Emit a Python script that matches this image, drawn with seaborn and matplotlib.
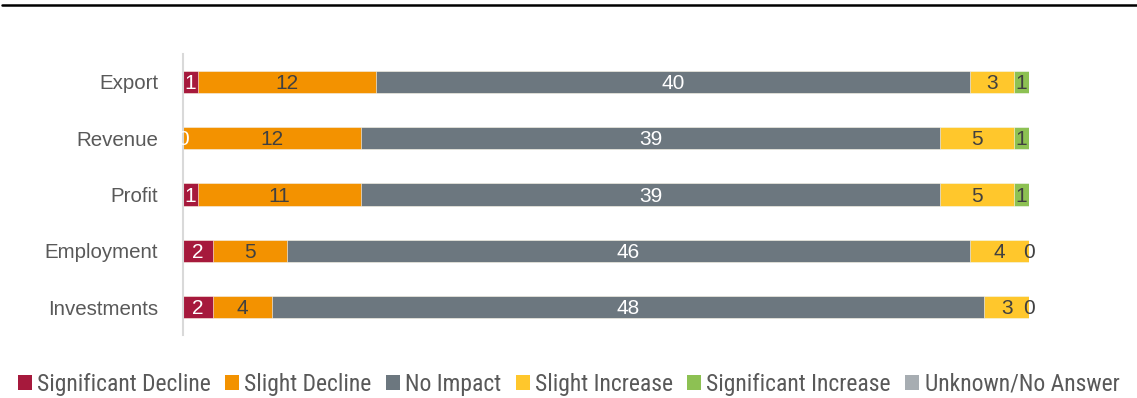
import matplotlib
matplotlib.use("Agg")
import matplotlib.pyplot as plt
from matplotlib.lines import Line2D
from matplotlib.patches import Patch
from matplotlib import font_manager
import numpy as np
import pandas as pd
import seaborn as sns

categories = ["Export", "Revenue", "Profit", "Employment", "Investments"]
series_names = ["Significant Decline", "Slight Decline", "No Impact",
                "Slight Increase", "Significant Increase", "Unknown/No Answer"]
significant_decline = [1, 0, 1, 2, 2]
slight_decline = [12, 12, 11, 5, 4]
no_impact = [40, 39, 39, 46, 48]
slight_increase = [3, 5, 5, 4, 3]
significant_increase = [1, 1, 1, 0, 0]
unknown_no_answer = [0, 0, 0, 0, 0]

colors = ["#A6193C", "#F39200", "#6C777F", "#FFC72C", "#8DC153", "#A7ADB2"]
text_colors = ["white", "#404040", "white", "#404040", "#404040", None]

values = [significant_decline, slight_decline, no_impact,
          slight_increase, significant_increase, unknown_no_answer]
df = pd.DataFrame({name: v for name, v in zip(series_names, values)},
                  index=categories)
cum = df.cumsum(axis=1)

sns.set_theme(style="white")
plt.rcParams["font.family"] = ["Liberation Sans", "DejaVu Sans"]

# pick a narrow face for the legend if one is installed
installed = {f.name for f in font_manager.fontManager.ttflist}
legend_family = "Liberation Sans"
for cand in ["Roboto Condensed", "Liberation Sans Narrow", "Open Sans Condensed"]:
    if cand in installed:
        legend_family = cand
        break

fig = plt.figure(figsize=(11.37, 3.98), dpi=100)
ax = fig.add_axes([0.161, 0.1577, 0.744, 0.7073])

# stacked bars: draw cumulative totals from the last series back to the first
for name, col in reversed(list(zip(series_names, colors))):
    plot_df = pd.DataFrame({"category": categories, "value": cum[name].values})
    sns.barplot(data=plot_df, x="value", y="category", orient="h",
                color=col, saturation=1, width=0.4, ax=ax,
                edgecolor="white", linewidth=0.4)

# value labels centred in each segment
for name, tc in zip(series_names, text_colors):
    if tc is None:
        continue
    for i, cat in enumerate(categories):
        v = df.loc[cat, name]
        centre = cum.loc[cat, name] - v / 2
        ax.text(centre, i + 0.03, f"{v}", ha="center", va="center",
                color=tc, fontsize=15)

ax.set_xlim(0, 57)
ax.set_ylim(4.5, -0.5)
ax.set_xlabel("")
ax.set_ylabel("")
ax.set_xticks([])
ax.tick_params(axis="y", length=0, pad=18, labelsize=14.8, labelcolor="#595959")
for s in ["top", "right", "bottom"]:
    ax.spines[s].set_visible(False)
ax.spines["left"].set_color("#D9D9D9")
ax.spines["left"].set_linewidth(1.5)

handles = [Patch(facecolor=c, edgecolor="none") for c in colors]
leg_size = 17 if legend_family != "Liberation Sans" else 14.5
leg = fig.legend(handles, series_names, loc="center", ncol=6,
                 bbox_to_anchor=(0.5, 0.035), frameon=False,
                 handlelength=0.6, handleheight=0.6, handletextpad=0.22,
                 columnspacing=0.6,
                 prop={"family": [legend_family, "DejaVu Sans"], "size": leg_size})
for t in leg.get_texts():
    t.set_color("#595959")

fig.add_artist(Line2D([0.002, 1.0], [0.987, 0.987], color="black", lw=1.8))

fig.savefig("out.png", dpi=100)
